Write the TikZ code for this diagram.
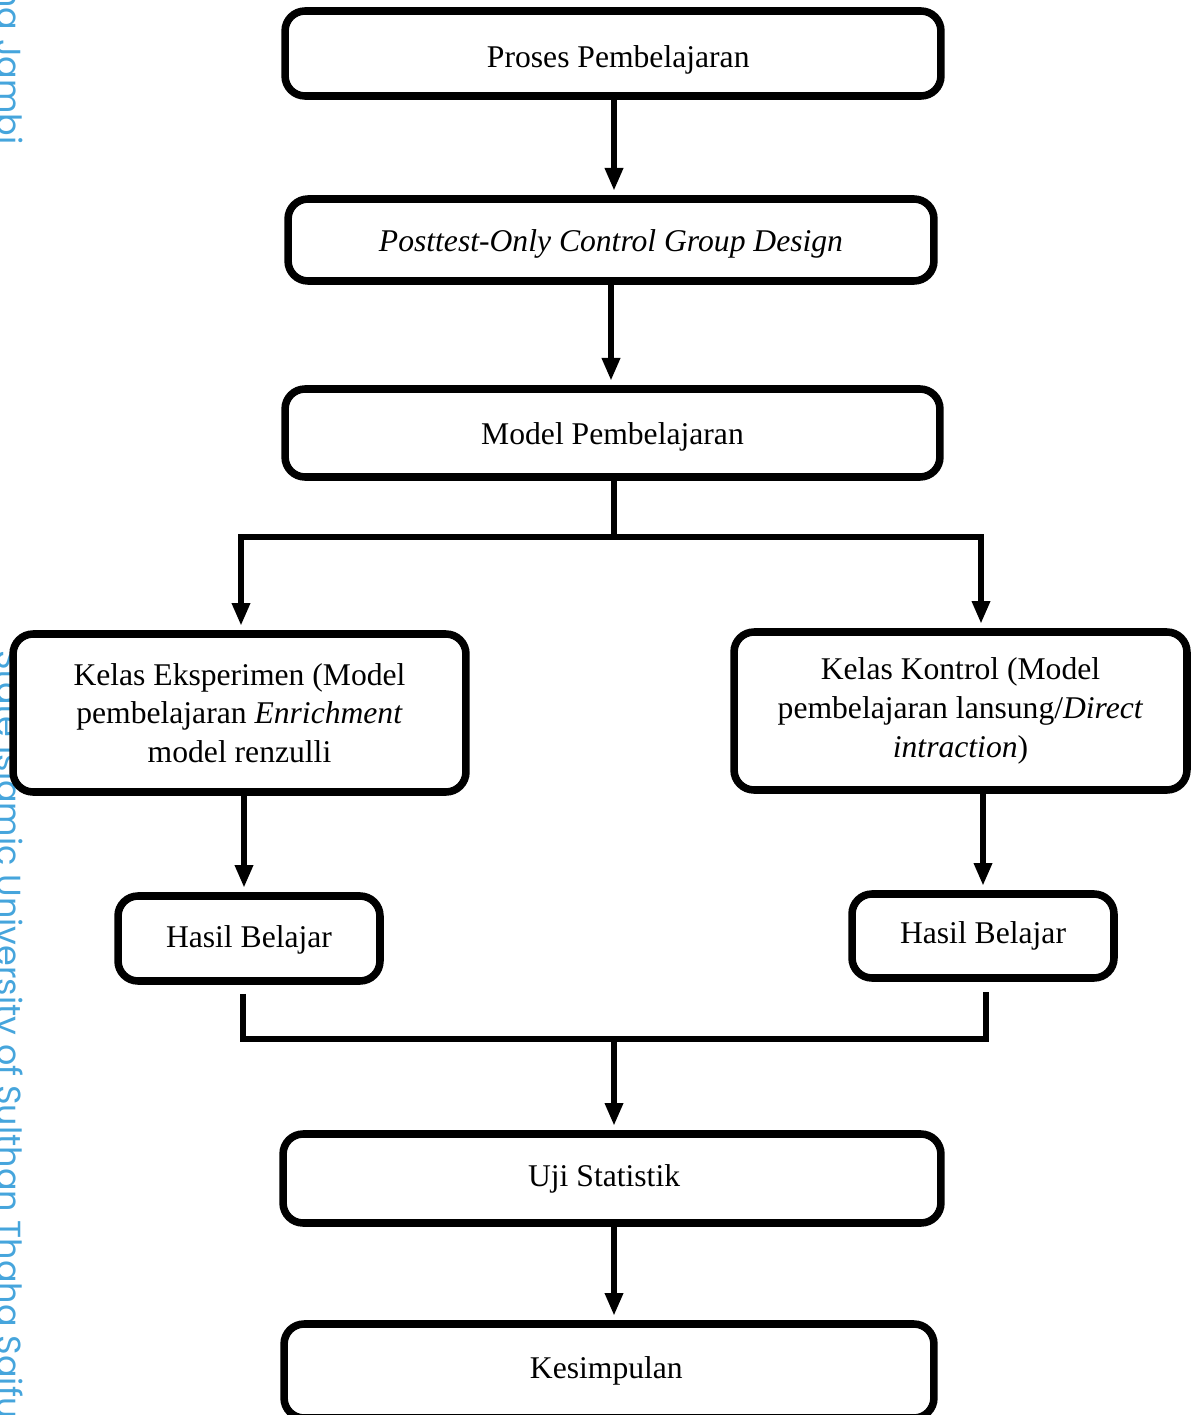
\documentclass[tikz,border=0pt]{standalone}
\usepackage{fontspec}
\setmainfont{Liberation Serif}
\newfontfamily\wmfont{Poppins}
\usetikzlibrary{arrows.meta}
\definecolor{wmblue}{RGB}{70,165,220}
\newcommand{\lowertxt}[2]{\raisebox{-#1}[\height][\depth]{#2}}
\begin{document}
\begin{tikzpicture}[x=0.02cm,y=-0.02cm,
  box/.style={draw, line width=4.3pt, rounded corners=0.4cm, fill=white,
    align=center, inner sep=0pt, font=\fontsize{18}{22}\selectfont},
  conn/.style={line width=3.5pt},
  arr/.style={conn, -{Triangle[width=9.8pt,length=13pt]}, shorten >=2.5pt},
  wmk/.style={inner sep=0pt, text=wmblue, font=\wmfont\fontsize{19}{23}\selectfont}]
\useasboundingbox (0,0) rectangle (1195,1415);
\clip (0,0) rectangle (1195,1415);
% watermark
\node[wmk, anchor=base east, rotate=-90] (wm1) at (-3,145) {na Jambi};
\node[wmk, anchor=base west, rotate=-90] (wm2) at (-3,650) {State Islamic University of Sulthan Thaha Saifuddin Jambi};
% boxes
\node[box, minimum width=13.12cm, minimum height=1.70cm] (b1) at (613,53.5) {\lowertxt{3.4pt}{\hspace*{6pt}Proses Pembelajaran}};
\node[box, minimum width=12.92cm, minimum height=1.64cm] (b2) at (611,240) {\lowertxt{2.3pt}{\textit{Posttest-Only Control Group Design}}};
\node[box, minimum width=13.10cm, minimum height=1.76cm] (b3) at (612.5,433) {\lowertxt{2.3pt}{Model Pembelajaran}};
\node[box, minimum width=9.06cm, minimum height=3.16cm] (b4) at (239.5,713) {Kelas Eksperimen (Model\\pembelajaran \textit{Enrichment}\\model renzulli};
\node[box, minimum width=9.06cm, minimum height=3.16cm] (b5) at (960.5,711) {Kelas Kontrol (Model\\pembelajaran lansung/\textit{Direct}\\\textit{intraction})};
\node[box, minimum width=5.24cm, minimum height=1.70cm] (b6) at (249,938.5) {\lowertxt{1pt}{Hasil Belajar}};
\node[box, minimum width=5.24cm, minimum height=1.68cm] (b7) at (983,936) {Hasil Belajar};
\node[box, minimum width=13.16cm, minimum height=1.78cm] (b8) at (612,1178.5) {Uji Statistik\hspace*{9pt}};
\node[box, minimum width=13.00cm, minimum height=1.88cm] (b9) at (609,1371) {Kesimpulan\hspace*{3pt}};
% junctions
\coordinate (j1) at (614,537);
\coordinate (j2) at (614,1039);
% connectors
\draw[arr] (b1.south -| j1) -- (b2.north -| j1);
\draw[arr] (b2.south) -- (b2.south |- b3.north);
\draw[conn] (b3.south -| j1) -- (j1);
\draw[arr] (j1) -| ([xshift=0.03cm]b4.north);
\draw[arr] (j1) -| ([xshift=0.41cm]b5.north);
\draw[arr] ([xshift=0.09cm]b4.south) -- ([xshift=0.09cm]b4.south |- b6.north);
\draw[arr] (b7.north |- b5.south) -- (b7.north);
\draw[conn] ([xshift=-0.12cm,yshift=-0.18cm]b6.south) |- ([xshift=0.06cm]b7.south |- j2) -- ([xshift=0.06cm,yshift=-0.2cm]b7.south);
\draw[arr] (j2) -- (b8.north -| j2);
\draw[arr] (b8.south -| j2) -- (b9.north -| j2);
\end{tikzpicture}
\end{document}
